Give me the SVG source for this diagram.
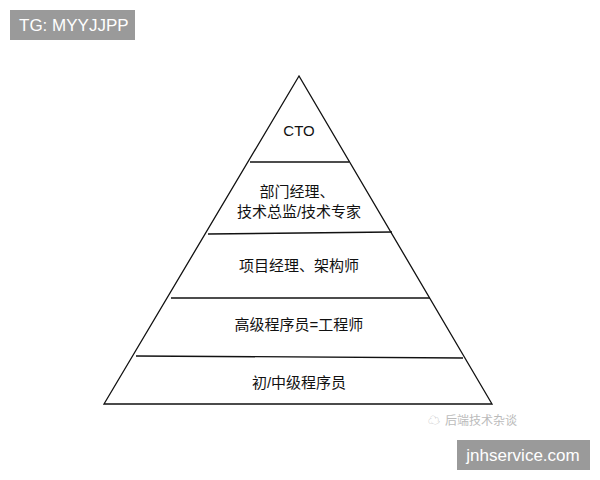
<svg xmlns="http://www.w3.org/2000/svg" width="600" height="480" viewBox="0 0 600 480">
<style>
.t{font-family:"Liberation Sans","Noto Sans CJK SC",sans-serif;font-size:15px;fill:#111;text-anchor:middle}
.l{stroke:#111;stroke-width:1.3;fill:none}
.tag{font-family:"Liberation Sans","Noto Sans CJK SC",sans-serif;font-size:17px;fill:#fff}
</style>
<rect width="600" height="480" fill="#fff"/>
<g id="tg"><rect x="10" y="10" width="125" height="30" fill="#9a9a9a"/><text class="tag" x="19" y="31">TG: MYYJJPP</text></g>
<g id="connectors">
<path class="l" d="M299,76 L104,404 L492,404 Z"/>
<line class="l" x1="250" y1="162" x2="349" y2="162"/>
<line class="l" x1="208" y1="234" x2="392" y2="232"/>
<line class="l" x1="171" y1="298" x2="430" y2="298"/>
<line class="l" x1="136" y1="356" x2="463" y2="358"/>
</g>
<g id="cto"><text class="t" x="299" y="136">CTO</text></g>
<g id="mgr"><text class="t" x="297" y="197">部门经理、</text><text class="t" x="299" y="217">技术总监/技术专家</text></g>
<g id="pm"><text class="t" x="299" y="271">项目经理、架构师</text></g>
<g id="senior"><text class="t" x="299" y="330">高级程序员=工程师</text></g>
<g id="junior"><text class="t" x="299" y="388">初/中级程序员</text></g>
<g id="wm"><text x="445" y="425" font-family="Noto Sans CJK SC,sans-serif" font-size="12" fill="#bbb">后端技术杂谈</text><text x="428" y="425" font-family="Noto Sans CJK SC,sans-serif" font-size="12" fill="#bbb">☁</text></g>
<g id="site"><rect x="457" y="440" width="133" height="30" fill="#9a9a9a"/><text class="tag" x="523" y="461" text-anchor="middle">jnhservice.com</text></g>
</svg>
